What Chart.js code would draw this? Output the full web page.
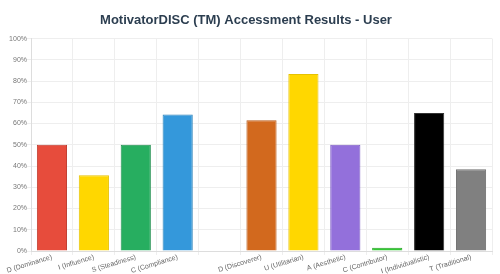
<!DOCTYPE html>
<html>
<head>
<meta charset="utf-8">
<script src="https://cdn.jsdelivr.net/npm/chart.js@4"></script>
<style>
html,body{margin:0;padding:0;background:#fff;}
#wrap{width:500px;height:274px;}
</style>
</head>
<body>
<div id="wrap"><canvas id="c"></canvas></div>
<script>
const categories = ["D (Dominance)", "I (Influence)", "S (Steadiness)", "C (Compliance)", "", "D (Discoverer)", "U (Utilitarian)", "A (Aesthetic)", "C (Contributor)", "I (Individualistic)", "T (Traditional)"];
const values = [50, 35.7, 50, 64.3, null, 61.5, 83.3, 50, 1.5, 65, 38.5];
const colors = ["#e74c3c", "#ffd700", "#27ae60", "#3498db", "#ffffff", "#d2691e", "#ffd700", "#9370db", "#32c832", "#000000", "#808080"];
const borders = ["#c0392b", "#e6c200", "#1e8f4e", "#2980b9", "#ffffff", "#b85a18", "#e6c200", "#7d5cc6", "#28a428", "#333333", "#6e6e6e"];
const yTicks = [0, 10, 20, 30, 40, 50, 60, 70, 80, 90, 100];

Chart.defaults.font.family = "'Liberation Sans', Arial, sans-serif";
new Chart(document.getElementById('c'), {
  type: 'bar',
  data: {
    labels: categories,
    datasets: [{
      data: values,
      backgroundColor: colors,
      borderColor: borders,
      borderWidth: 1
    }]
  },
  options: {
    responsive: true,
    maintainAspectRatio: false,
    animation: false,
    layout: { padding: { left: 0, right: 8, top: 0, bottom: 0 } },
    plugins: {
      legend: { display: false },
      tooltip: { enabled: false },
      title: {
        display: true,
        text: 'MotivatorDISC (TM) Accessment Results - User',
        color: '#2c3e50',
        font: { size: 13, weight: 'bold' },
        padding: { top: 13, bottom: 10 }
      }
    },
    scales: {
      y: {
        min: 0, max: 100,
        afterBuildTicks: (axis) => { axis.ticks = yTicks.map(v => ({ value: v })); },
        afterFit: (axis) => { axis.width = 31; },
        ticks: { callback: v => v + '%', color: '#777', font: { size: 7 }, padding: 0 },
        grid: { color: '#eeeeee', tickLength: 4 },
        border: { color: '#dddddd' }
      },
      x: {
        afterFit: (axis) => { axis.height = 23; },
        ticks: { color: '#666', font: { size: 7 }, maxRotation: 17, minRotation: 17, autoSkip: false, padding: -2 },
        grid: { color: '#eeeeee', tickLength: 4 },
        border: { color: '#dddddd' }
      }
    }
  }
});
</script>
</body>
</html>
